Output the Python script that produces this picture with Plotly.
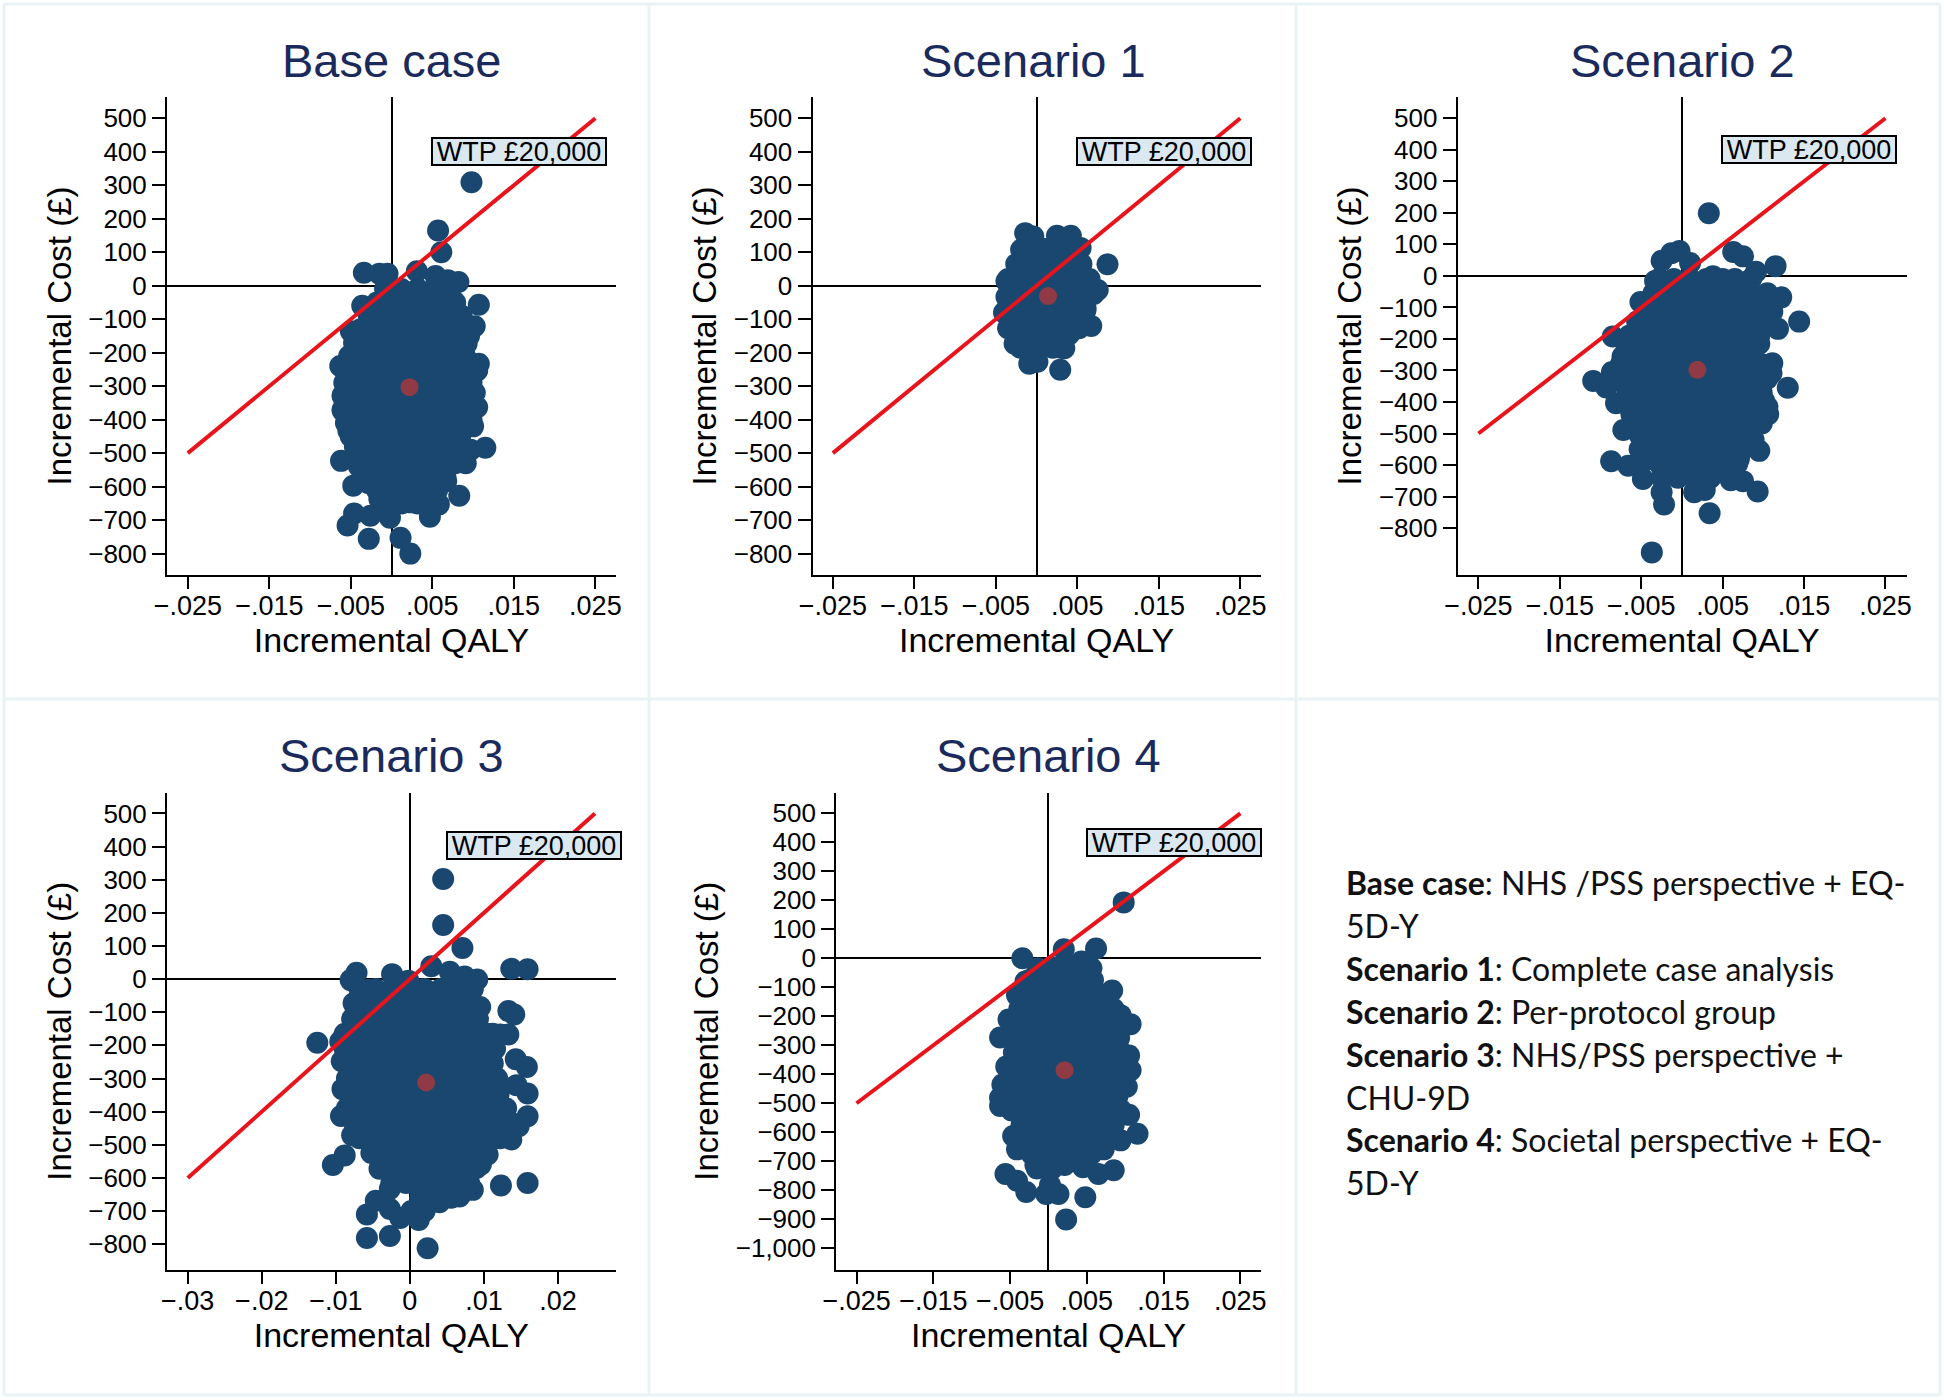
import plotly.graph_objects as go

W, H = 1944, 1400
NAVY = "#1a476f"
RED = "#e8141c"
MEAN = "#8f3a45"
TITLE = "#1a2a5c"
FONT = "Liberation Sans"

panel_titles = ["Base case", "Scenario 1", "Scenario 2", "Scenario 3", "Scenario 4"]
x_title = "Incremental QALY"
y_title = "Incremental Cost (£)"
wtp_label = "WTP £20,000"

qaly_ticks = [-.025, -.015, -.005, .005, .015, .025]
qaly_text = ["−.025", "−.015", "−.005", ".005", ".015", ".025"]
qaly_ticks_s3 = [-.03, -.02, -.01, 0, .01, .02]
qaly_text_s3 = ["−.03", "−.02", "−.01", "0", ".01", ".02"]
cost_ticks = [500, 400, 300, 200, 100, 0, -100, -200, -300, -400, -500, -600, -700, -800]
cost_text = ["500", "400", "300", "200", "100", "0", "−100", "−200", "−300", "−400", "−500", "−600", "−700", "−800"]
cost_ticks_s4 = cost_ticks + [-900, -1000]
cost_text_s4 = cost_text + ["−900", "−1,000"]

wtp_x = [-.025, .025]
wtp_y = [-500, 500]
wtp_x_s3 = [-.03, .025]
wtp_y_s3 = [-600, 500]

means = [(.0022, -303), (.0014, -31), (.0019, -298), (.0022, -312), (.0021, -386)]

base_edge = [(.0098,309),(.0057,165),(.0061,100),(.0107,-57),(.0102,-121),(.0115,-484),(.0097,-490),(.0091,-530),
 (.0083,-627),(.0067,-584),(.0058,-653),(.0047,-690),(.0023,-800),(.0011,-753),(-.0028,-756),(-.0054,-716),
 (-.0046,-680),(-.0026,-687),(-.0002,-693),(-.0047,-597),(-.0062,-523),(-.0015,-637),(.0023,-647),(-.0034,39),
 (-.0015,36),(-.0005,36),(.0031,43),(.0054,29),(.0069,16),(.0082,11),(-.0036,-60),(-.005,-136),(-.0063,-240),
 (-.006,-327),(-.006,-373),(-.0053,-433),(.0107,-233),(.0105,-253),(.0102,-320),(.0105,-363),(.01,-420),(.0092,-173),
 (.0098,-290),(.0098,-400),(.009,-210),(.0095,-150),(-.0045,-480),(-.004,-540),(-.0028,-590)]
base_rows = [(-10,[-.0008,.0012,.0032,.0052,.0072]),
 (-50,[-.0018,.0002,.0022,.0042,.0062,.0078]),
 (-90,[-.0028,-.0008,.0012,.0032,.0052,.0072,.0086]),
 (-130,[-.0038,-.0018,.0002,.0022,.0042,.0062,.0082]),
 (-170,[-.0046,-.0028,-.0008,.0012,.0032,.0052,.0072,.009]),
 (-210,[-.0052,-.0036,-.0018,.0002,.0022,.0042,.0062,.0082]),
 (-250,[-.0058,-.0042,-.0024,-.0004,.0016,.0036,.0056,.0076,.0094]),
 (-290,[-.0058,-.0038,-.0018,.0002,.0022,.0042,.0062,.0082]),
 (-330,[-.006,-.0044,-.0024,-.0004,.0016,.0036,.0056,.0076,.0092]),
 (-370,[-.006,-.0038,-.0018,.0002,.0022,.0042,.0062,.0082]),
 (-410,[-.0056,-.0044,-.0024,-.0004,.0016,.0036,.0056,.0076,.0092]),
 (-450,[-.005,-.0034,-.0014,.0006,.0026,.0046,.0066,.0084]),
 (-490,[-.0042,-.0024,-.0004,.0016,.0036,.0056,.0076]),
 (-530,[-.0034,-.0016,.0004,.0024,.0044,.0064,.0078]),
 (-570,[-.0024,-.0006,.0014,.0034,.0054,.0066]),
 (-610,[-.0018,.0002,.0022,.0042,.0056]),
 (-650,[-.0008,.0012,.0032,.0046])]

s1_edge = [(-.0014,157),(.0025,149),(.0042,149),(-.0019,107),(.0054,113),(-.0037,13),(-.0037,-33),(.0087,64),
 (.0075,-13),(.006,-73),(.0067,-120),(.0052,-127),(.0034,-187),(.0029,-251),(.0001,-227),(-.0009,-233),
 (-.0027,-173),(-.0035,-127),(-.004,-80),(-.0004,147)]
s1_rows = [(110,[-.001,.001,.003,.0045]),
 (65,[-.0025,-.0005,.0015,.0035,.0055]),
 (20,[-.0035,-.0015,.0005,.0025,.0045,.0065]),
 (-25,[-.0025,-.0005,.0015,.0035,.0055,.007]),
 (-65,[-.0035,-.0015,.0005,.0025,.0045,.006]),
 (-105,[-.003,-.001,.001,.003,.005]),
 (-145,[-.002,0,.002,.004]),
 (-185,[-.002,0,.002,.003])]

s2_edge = [(.0033,199),(-.0003,79),(-.0013,72),(-.0025,48),(-.0033,-16),(.001,41),(.0063,76),(.0075,62),(.0091,13),
 (.0115,31),(.0038,-1),(-.0051,-83),(.0101,-65),(.0122,-68),(.0144,-145),(.0118,-168),(.0111,-114),(-.0085,-192),
 (-.0055,-178),(-.0073,-256),(-.0086,-305),(-.0109,-333),(-.0093,-354),(-.0081,-404),(-.0072,-489),(-.0087,-588),
 (-.0066,-602),(-.0048,-644),(-.0025,-686),(-.0022,-725),(.0015,-686),(.0028,-679),(.0034,-753),(-.0037,-877),
 (.006,-648),(.0075,-651),(.0093,-684),(.0045,-609),(.007,-580),(.0095,-555),(.0098,-468),(.0106,-439),(.0111,-277),
 (.011,-309),(.013,-355),(.0101,-397),(.0076,-517),(-.0068,-385),(-.0072,-340),(-.0062,-440),(.0095,-215),(.0088,-520)]
s2_rows = [(-10,[-.0028,-.001,.001,.003,.005,.0065,.0085]),
 (-55,[-.0035,-.0015,.0005,.0025,.0045,.0065,.0085,.0105]),
 (-100,[-.0045,-.0025,-.0005,.0015,.0035,.0055,.0075,.0095,.011]),
 (-145,[-.0055,-.0035,-.0015,.0005,.0025,.0045,.0065,.0085,.0105]),
 (-190,[-.0065,-.0045,-.0025,-.0005,.0015,.0035,.0055,.0075,.0095]),
 (-235,[-.0068,-.005,-.003,-.001,.001,.003,.005,.007,.0088]),
 (-280,[-.0075,-.006,-.004,-.002,0,.002,.004,.006,.008,.0098]),
 (-325,[-.0075,-.005,-.003,-.001,.001,.003,.005,.007,.009,.0105]),
 (-370,[-.0065,-.004,-.002,0,.002,.004,.006,.008,.0098]),
 (-415,[-.0065,-.005,-.003,-.001,.001,.003,.005,.007,.009,.0105]),
 (-460,[-.0055,-.004,-.002,0,.002,.004,.006,.008,.0095]),
 (-505,[-.0052,-.003,-.001,.001,.003,.005,.007,.0085]),
 (-550,[-.0052,-.004,-.002,0,.002,.004,.006,.0075]),
 (-595,[-.005,-.0028,-.0008,.0012,.0032,.0052,.0068]),
 (-640,[-.0025,-.0005,.0015,.0035])]

s3_edge = [(.0045,302),(.0045,163),(.0071,94),(.0029,39),(-.0072,19),(-.008,-3),(-.0024,15),(-.0002,-5),(.0054,22),
 (.0074,8),(.0091,-1),(.0137,31),(.0159,30),(.0095,-84),(.0133,-96),(.0141,-107),(.0122,-167),(.0133,-167),(.0091,-140),
 (.0143,-242),(.0158,-265),(.0144,-320),(.0159,-345),(.0159,-414),(.0147,-444),(.0137,-484),(.0105,-529),(.0096,-559),
 (.0123,-623),(.0159,-615),(.0085,-636),(.0067,-656),(.004,-673),(.0012,-727),(.0024,-812),(-.0027,-775),(-.0058,-781),
 (-.0058,-710),(-.0046,-669),(-.0027,-694),(-.0013,-721),(-.0027,-633),(-.0041,-572),(-.0088,-532),(-.0104,-561),
 (-.0078,-471),(-.0093,-413),(-.0091,-332),(-.0092,-248),(-.0094,-188),(-.0125,-192),(-.0077,-127),(-.0076,-73),(-.0055,-32),
 (.0112,-165),(.0115,-210),(.0118,-300),(.0122,-390),(.0128,-440),(.0115,-480)]
s3_rows = [(-30,[-.0068,-.0046,-.0024,-.0002,.002,.0042,.0064,.0085]),
 (-75,[-.0072,-.005,-.0028,-.0006,.0016,.0038,.006,.0082]),
 (-120,[-.0078,-.0056,-.0034,-.0012,.001,.0032,.0054,.0076,.0092]),
 (-165,[-.0088,-.0066,-.0044,-.0022,0,.0022,.0044,.0066,.0088,.0104]),
 (-210,[-.0088,-.007,-.0048,-.0026,-.0004,.0018,.004,.0062,.0084,.0102]),
 (-255,[-.008,-.0058,-.0036,-.0014,.0008,.003,.0052,.0074,.0096,.0112]),
 (-300,[-.0085,-.0068,-.0046,-.0024,-.0002,.002,.0042,.0064,.0086,.0108]),
 (-345,[-.0082,-.006,-.0038,-.0016,.0006,.0028,.005,.0072,.0094,.0112,.012]),
 (-390,[-.0085,-.0068,-.0046,-.0024,-.0002,.002,.0042,.0064,.0086,.0108,.013]),
 (-435,[-.0075,-.0058,-.0036,-.0014,.0008,.003,.0052,.0074,.0096,.0118,.0138]),
 (-480,[-.0068,-.0048,-.0026,-.0004,.0018,.004,.0062,.0084,.0106,.0122]),
 (-525,[-.0052,-.003,-.0008,.0014,.0036,.0058,.008,.01]),
 (-570,[-.004,-.002,.0002,.0024,.0046,.0068,.009]),
 (-615,[-.0025,-.0005,.0017,.0039,.0061,.008]),
 (-660,[.0014,.0036,.0056]),
 (-700,[.0002,.002])]

s4_edge = [(.0098,193),(.0062,34),(.002,31),(-.0034,0),(-.0014,-34),(.0056,-34),(.0043,-11),(-.003,-80),(-.0041,-127),
 (.0083,-111),(.0094,-196),(.0107,-227),(-.0052,-211),(-.0063,-273),(-.0055,-373),(-.006,-435),(-.0063,-481),(-.0063,-509),
 (.0105,-335),(.0107,-386),(.0102,-443),(.0105,-540),(.0116,-605),(.0094,-628),(.0072,-659),(-.0046,-613),(-.0041,-659),
 (.0085,-731),(.0065,-744),(.0045,-721),(.0021,-713),(-.0056,-744),(-.0041,-767),(-.0029,-806),(-.0003,-813),(.0013,-813),
 (.0002,-782),(.0048,-824),(.0023,-901),(-.0017,-713)]
s4_rows = [(-30,[.0004,.0025,.0046]),
 (-75,[-.0025,-.0005,.0016,.0037,.0058]),
 (-125,[-.003,-.001,.0011,.0032,.0053,.0074]),
 (-175,[-.0038,-.0018,.0003,.0024,.0045,.0066,.0085]),
 (-225,[-.0045,-.0025,-.0004,.0017,.0038,.0059,.008,.0095]),
 (-275,[-.0048,-.0032,-.0011,.001,.0031,.0052,.0073,.0092]),
 (-325,[-.0045,-.0025,-.0004,.0017,.0038,.0059,.008,.0095]),
 (-375,[-.0045,-.0032,-.0011,.001,.0031,.0052,.0073,.0092]),
 (-425,[-.0048,-.0025,-.0004,.0017,.0038,.0059,.008,.0095]),
 (-475,[-.005,-.0032,-.0011,.001,.0031,.0052,.0073,.009]),
 (-525,[-.0048,-.0025,-.0004,.0017,.0038,.0059,.008,.0095]),
 (-575,[-.0035,-.0011,.001,.0031,.0052,.0073,.0085]),
 (-625,[-.003,-.0018,.0003,.0024,.0045,.0066,.0078]),
 (-675,[-.0022,-.0005,.0016,.0037,.0056]),
 (-725,[-.0015,.0005])]

legend_lines = ["<b>Base case</b>: NHS /PSS perspective + EQ-", "5D-Y",
                "<b>Scenario 1</b>: Complete case analysis", "<b>Scenario 2</b>: Per-protocol group",
                "<b>Scenario 3</b>: NHS/PSS perspective +", "CHU-9D",
                "<b>Scenario 4</b>: Societal perspective + EQ-", "5D-Y"]

# pixel boxes of the panels: left, right, top, bottom
boxes = [(167, 616, 97.3, 574.6), (812.5, 1260.7, 97.3, 574.6), (1457.7, 1906.6, 97.3, 574.6),
         (167, 615.7, 792.9, 1269.6), (836.2, 1261.1, 792.9, 1269.6)]
xranges = [(-.02755, .02753), (-.0275, .0275), (-.02755, .02760), (-.0328, .0278), (-.02765, .02770)]
yranges = [(-862.7, 562.7), (-862.7, 562.7), (-947.5, 566.6), (-876.6, 561.9), (-1073.8, 570.7)]
label_pos = [(.01565, 400), (.01563, 400), (.01564, 400), (.01675, 402), (.01636, 400)]
title_cx = [391.8, 1033.5, 1682, 391.6, 1048]
edges = [base_edge, s1_edge, s2_edge, s3_edge, s4_edge]
rows = [base_rows, s1_rows, s2_rows, s3_rows, s4_rows]
xtick_sets = [(qaly_ticks, qaly_text)] * 3 + [(qaly_ticks_s3, qaly_text_s3), (qaly_ticks, qaly_text)]
ytick_sets = [(cost_ticks, cost_text)] * 4 + [(cost_ticks_s4, cost_text_s4)]
wtp_lines = [(wtp_x, wtp_y)] * 3 + [(wtp_x_s3, wtp_y_s3), (wtp_x, wtp_y)]

fig = go.Figure()
layout = dict(width=W, height=H, autosize=False, margin=dict(l=0, r=0, t=0, b=0), showlegend=False,
              paper_bgcolor="white", plot_bgcolor="white")
annotations = []

for i in range(5):
    suffix = "" if i == 0 else str(i + 1)
    xa, ya = "x" + suffix, "y" + suffix
    l, r, t, b = boxes[i]
    layout["xaxis" + suffix] = dict(
        domain=[l / W, r / W], range=list(xranges[i]), anchor=ya, showgrid=False, showline=True, automargin=False,
        linecolor="black", linewidth=2, zeroline=True, zerolinecolor="black", zerolinewidth=2,
        ticks="outside", ticklen=12, tickwidth=2, tickcolor="black", tickvals=xtick_sets[i][0],
        ticktext=xtick_sets[i][1], tickangle=0, tickfont=dict(family=FONT, size=27, color="black"),
        ticklabelstandoff=-6,
        title=dict(text=x_title, font=dict(family=FONT, size=34, color="black"), standoff=0))
    layout["yaxis" + suffix] = dict(
        domain=[1 - b / H, 1 - t / H], range=list(yranges[i]), anchor=xa, showgrid=False, showline=True, automargin=False,
        linecolor="black", linewidth=2, zeroline=True, zerolinecolor="black", zerolinewidth=2,
        ticks="outside", ticklen=13, tickwidth=2, tickcolor="black", tickvals=ytick_sets[i][0],
        ticktext=ytick_sets[i][1], tickangle=0, tickfont=dict(family=FONT, size=26, color="black"),
        ticklabelstandoff=0,
        title=dict(text=y_title, font=dict(family=FONT, size=33, color="black"), standoff=7))

    px = [p[0] for p in edges[i]]
    py = [p[1] for p in edges[i]]
    for yv, xs in rows[i]:
        px += xs
        py += [yv] * len(xs)
    fig.add_trace(go.Scatter(x=px, y=py, mode="markers", xaxis=xa, yaxis=ya,
                             marker=dict(color=NAVY, size=22, line=dict(width=0))))
    fig.add_trace(go.Scatter(x=wtp_lines[i][0], y=wtp_lines[i][1], mode="lines", xaxis=xa, yaxis=ya,
                             line=dict(color=RED, width=4)))
    fig.add_trace(go.Scatter(x=[means[i][0]], y=[means[i][1]], mode="markers", xaxis=xa, yaxis=ya,
                             marker=dict(color=MEAN, size=18, line=dict(width=0))))
    annotations.append(dict(text=wtp_label, x=label_pos[i][0], y=label_pos[i][1], xref=xa, yref=ya,
                            showarrow=False, font=dict(family=FONT, size=27, color="black"),
                            bgcolor="#dce8ef", bordercolor="black", borderwidth=2, borderpad=0,
                            width=172, height=25, align="center", valign="middle"))
    annotations.append(dict(text=panel_titles[i], x=title_cx[i] / W, y=1 - (t - 37) / H, xref="paper", yref="paper",
                            xanchor="center", yanchor="middle", showarrow=False,
                            font=dict(family=FONT, size=47, color=TITLE)))

for k, line in enumerate(legend_lines):
    annotations.append(dict(text=line, x=1344 / W, y=1 - (883 + k * 42.8) / H, xref="paper", yref="paper",
                            xanchor="left", yanchor="middle", showarrow=False, align="left",
                            font=dict(family="Lato", size=32, color="#111111")))

FRAME = "#e9f3f6"
frame_lines = [(4, 4, 4, 1395), (649, 4, 649, 1395), (1296, 4, 1296, 1395), (1940, 4, 1940, 1395),
               (4, 4, 1940, 4), (4, 699, 1940, 699), (4, 1395, 1940, 1395)]
layout["shapes"] = [dict(type="line", xref="paper", yref="paper", x0=a / W, x1=c / W, y0=1 - b / H, y1=1 - d / H,
                         line=dict(color=FRAME, width=3), layer="below") for a, b, c, d in frame_lines]
layout["annotations"] = annotations
fig.update_layout(**layout)
fig.write_html("out.html", config={"displayModeBar": False},
               post_script="document.body.style.margin='0';document.body.style.overflow='hidden';")
